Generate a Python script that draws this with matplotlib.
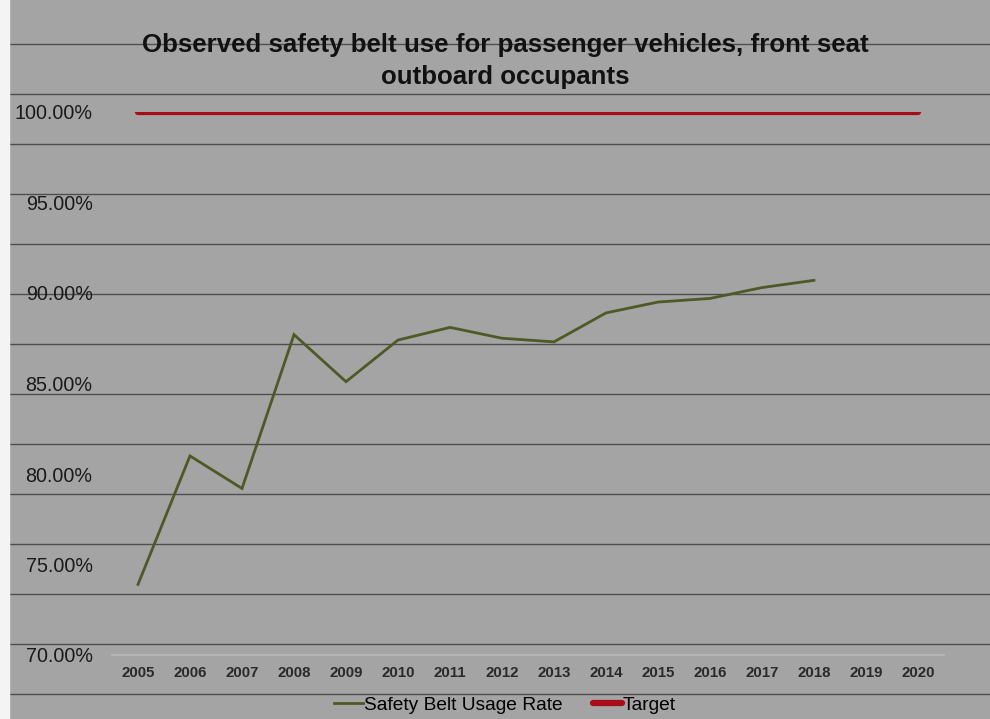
import numpy as np
import matplotlib.pyplot as plt
from matplotlib.lines import Line2D
from matplotlib.patches import Rectangle
from matplotlib.ticker import FuncFormatter

# observed front seat outboard belt use, percent
years = [str(y) for y in range(2005, 2021)]
usage_years = [str(y) for y in range(2005, 2019)]
usage_rate = [73.9, 81.0, 79.2, 87.7, 85.1, 87.4, 88.1, 87.5, 87.3,
              88.9, 89.5, 89.7, 90.3, 90.7]
target = [100.0] * len(years)

plt.rcParams["font.family"] = ["Liberation Sans", "DejaVu Sans"]

W, H = 990, 719
fig = plt.figure(figsize=(W / 100, H / 100), dpi=100, facecolor="#a4a4a4")

# ruled lines running across the whole sheet
for yp in range(44, 719, 50):
    fig.add_artist(Line2D([10 / W, 1], [1 - yp / H, 1 - yp / H],
                          transform=fig.transFigure, color="#4e4e4e", lw=1.0, zorder=0))
fig.add_artist(Rectangle((0, 0), 9 / W, 1, transform=fig.transFigure,
                         color="#f4f4f4", zorder=0))

ax = fig.add_axes([112 / W, 1 - 655 / H, (944 - 112) / W, (655 - 112) / H])
ax.patch.set_alpha(0)

x_all = np.arange(len(years))
x_use = np.arange(len(usage_years))
ax.plot(x_use, usage_rate, color="#4d5a26", lw=2.0, solid_joinstyle="miter",
        label="Safety Belt Usage Rate", zorder=3)
ax.plot(x_all, target, color="#a80c18", lw=4.5, solid_capstyle="round",
        label="Target", zorder=3)

ax.set_xlim(-0.5, len(years) - 0.5)
ax.set_ylim(70, 100)
ax.set_yticks(np.arange(70, 100.1, 5))
ax.yaxis.set_major_formatter(FuncFormatter(lambda v, p: f"{v:.2f}%"))
ax.set_xticks(x_all)
ax.set_xticklabels(years)

for s in ["top", "right", "left"]:
    ax.spines[s].set_visible(False)
ax.spines["bottom"].set_color("#b8b8b8")
ax.spines["bottom"].set_linewidth(1.2)
ax.tick_params(axis="y", length=0, pad=14, labelsize=14.2, labelcolor="#1a1a1a")
ax.tick_params(axis="x", length=0, pad=8, labelsize=10.8, labelcolor="#2a2a2a")
for lbl in ax.get_xticklabels():
    lbl.set_fontweight("bold")

fig.text(0.51, 1 - 61 / H, "Observed safety belt use for passenger vehicles, front seat\noutboard occupants",
         ha="center", va="center", fontsize=18.6, fontweight="bold", color="#111111",
         linespacing=1.38)

fig.legend(loc="center", bbox_to_anchor=(0.51, 1 - 705 / H), ncol=2, frameon=False,
           fontsize=13.8, handlelength=1.5, handletextpad=0.05, columnspacing=1.6)

fig.savefig("out.png", dpi=100, facecolor=fig.get_facecolor())
